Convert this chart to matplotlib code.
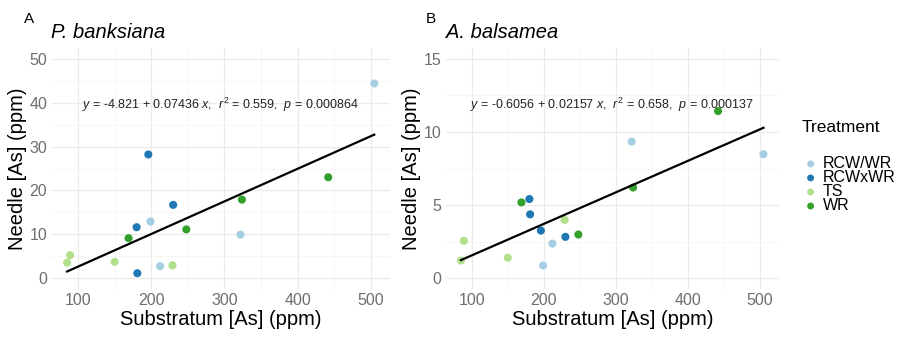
import numpy as np
import matplotlib.pyplot as plt

plt.rcParams['font.family'] = ['Liberation Sans', 'DejaVu Sans']
plt.rcParams['mathtext.fontset'] = 'custom'
plt.rcParams['mathtext.rm'] = 'Liberation Sans'
plt.rcParams['mathtext.it'] = 'Liberation Sans:italic'

# Daten
treatments = ['RCW/WR', 'RCWxWR', 'TS', 'WR']
colors = ['#A6CEE3', '#1F78B4', '#B2DF8A', '#33A02C']

substratum = {
    'RCW/WR': [199, 212, 322, 505],
    'RCWxWR': [180, 181, 196, 230],
    'TS': [85, 89, 150, 229],
    'WR': [169, 248, 324, 442],
}
needle_pb = {
    'RCW/WR': [12.9, 2.7, 9.9, 44.4],
    'RCWxWR': [11.6, 1.1, 28.2, 16.7],
    'TS': [3.5, 5.2, 3.7, 2.9],
    'WR': [9.1, 11.1, 17.9, 23.0],
}
needle_ab = {
    'RCW/WR': [0.86, 2.36, 9.34, 8.48],
    'RCWxWR': [5.41, 4.36, 3.25, 2.82],
    'TS': [1.2, 2.55, 1.39, 3.98],
    'WR': [5.18, 2.98, 6.2, 11.43],
}

coef_pb = (-4.821, 0.07436)
coef_ab = (-0.6056, 0.02157)
eq_pb = r'$y$ = -4.821 + 0.07436 $x$,  $r^2$ = 0.559,  $p$ = 0.000864'
eq_ab = r'$y$ = -0.6056 + 0.02157 $x$,  $r^2$ = 0.658,  $p$ = 0.000137'

fig = plt.figure(figsize=(9.03, 3.37), dpi=100)
ax1 = fig.add_axes([0.057, 0.1424, 0.375, 0.7152])
ax2 = fig.add_axes([0.4934, 0.1424, 0.3693, 0.7152])

all_x = np.concatenate([substratum[t] for t in treatments])
xline = np.array([all_x.min(), all_x.max()])


def panel(ax, needle, coef, eq, title, tag, ylim, yticks, yminor, tagx):
    for t, c in zip(treatments, colors):
        ax.scatter(substratum[t], needle[t], s=34, color=c, edgecolors='none',
                   label=t, zorder=3)
    ax.plot(xline, coef[0] + coef[1] * xline, color='black', lw=1.6, zorder=4)
    ax.set_xlim(63.6, 526.6)
    ax.set_ylim(*ylim)
    ax.set_xticks([100, 200, 300, 400, 500])
    ax.set_xticks([150, 250, 350, 450], minor=True)
    ax.set_yticks(yticks)
    ax.set_yticks(yminor, minor=True)
    ax.grid(True, which='major', color='#EBEBEB', lw=0.9)
    ax.grid(True, which='minor', color='#F3F3F3', lw=0.5)
    ax.set_axisbelow(True)
    for s in ax.spines.values():
        s.set_visible(False)
    ax.tick_params(which='both', length=0, labelsize=11.5, labelcolor='#6E6E6E', pad=3)
    ax.set_xlabel('Substratum [As] (ppm)', fontsize=14.5, labelpad=1)
    ax.set_ylabel('Needle [As] (ppm)', fontsize=14.5, labelpad=2)
    ax.set_title(title, fontsize=14.5, style='italic', loc='left', pad=7)
    ax.text(0.5, 0.763, eq, transform=ax.transAxes, ha='center', va='center',
            fontsize=9, color='#222222')
    fig.text(tagx, 0.945, tag, fontsize=11, ha='left', va='center')


panel(ax1, needle_pb, coef_pb, eq_pb, 'P. banksiana', 'A',
      (-2.5, 52.5), [0, 10, 20, 30, 40, 50], [5, 15, 25, 35, 45], 0.027)
panel(ax2, needle_ab, coef_ab, eq_ab, 'A. balsamea', 'B',
      (-0.75, 15.75), [0, 5, 10, 15], [2.5, 7.5, 12.5], 0.472)

# Legende: Titel separat, damit der Abstand wie im Original ist
ax2.legend(loc='upper left', bbox_to_anchor=(1.048, 0.578),
           frameon=False, fontsize=11.5, handletextpad=0.2,
           labelspacing=-0.06, markerscale=0.85, borderaxespad=0,
           handlelength=1.15)
fig.text(0.888, 0.623, 'Treatment', fontsize=12.5, ha='left', va='center')

fig.savefig('out.png', dpi=100, facecolor='white')
